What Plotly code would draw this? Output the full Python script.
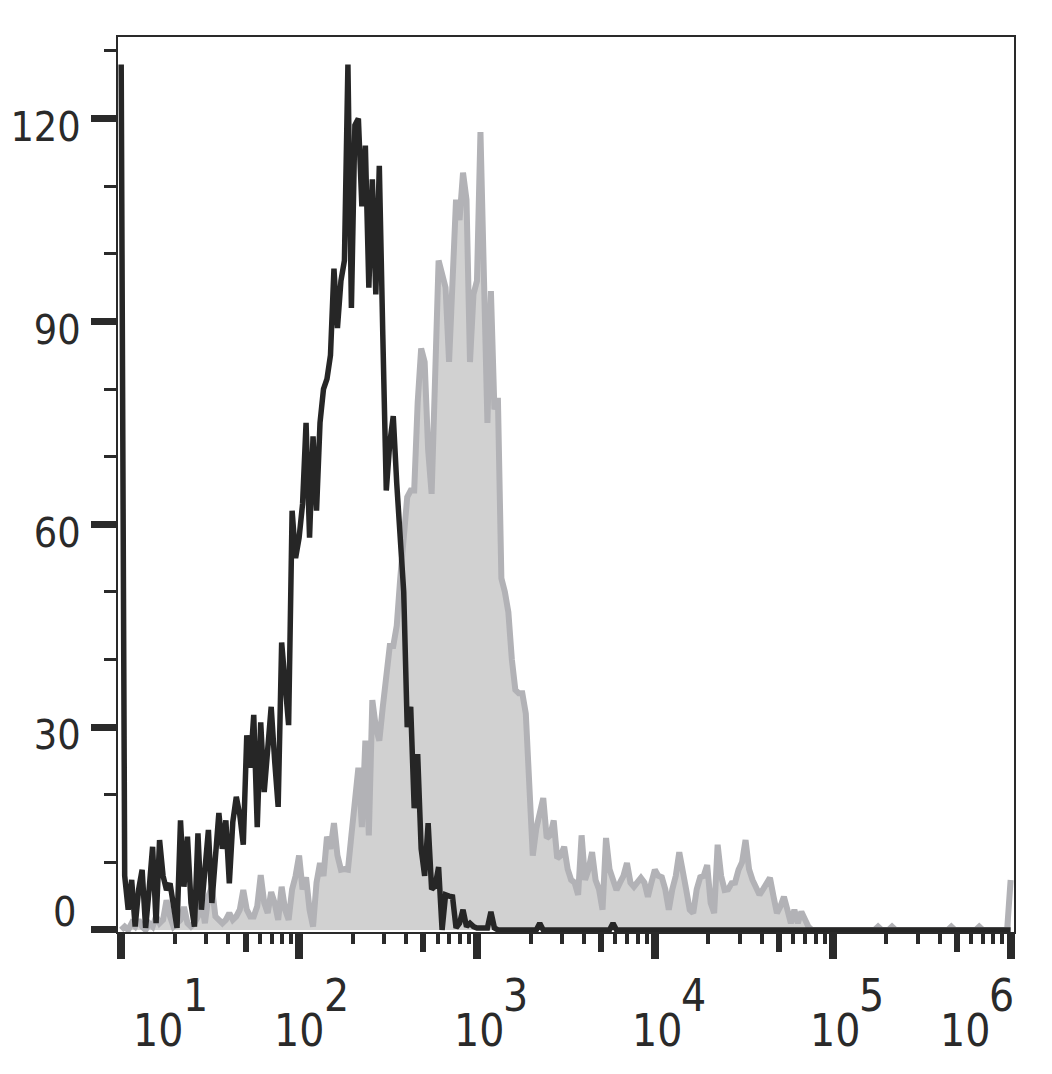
import numpy as np
import plotly.graph_objects as go

# ---- data: 256 log-spaced channels from 10^1 to 10^6 ----
n_bins = 256
channels = np.logspace(1, 6, n_bins)

black_counts = [
    128, 8, 3, 7.4, 0.5, 6, 8.9, 0.3, 6, 12.3, 1, 13.3,
    8, 5.9, 6.9, 3, 0.3, 16.2, 6.4, 13.8, 4, 0.5, 14.3, 3,
    10, 14.8, 4, 12, 17.3, 12, 16.2, 6.9, 16, 19.7, 17, 12.6,
    28.8, 24, 31.8, 15.2, 30.7, 20.4, 28, 33, 25, 18.2, 42.5, 36,
    30.3, 62, 55, 58, 63, 75, 58, 73, 62, 75, 80, 81.5,
    85, 97.8, 89, 96, 99, 128, 92, 119, 120, 107, 116, 95,
    111, 94, 113, 88, 65, 72, 76, 66, 58, 50, 30, 33,
    18, 26, 12, 8, 15.8, 6, 6.5, 9.3, 0, 5.2, 5, 4.9,
    0.3, 1, 3, 0.5, 1, 0.5, 0.3, 0.3, 0.3, 0.3, 2.7, 0.3,
]
black_counts += [0] * (n_bins - len(black_counts))
black_counts[120] = 1
black_counts[141] = 1

gray_counts = [
    0, 0.5, 0, 1, 0.5, 1.5, 0.5, 0, 1, 0.5, 2, 1,
    1.5, 4.4, 2, 0.5, 1, 1.5, 3.4, 1, 0.5, 1, 2, 4.4,
    1, 5, 6.4, 2, 1.5, 1, 1.5, 2.5, 1.5, 2, 3, 5.9,
    3, 2, 2, 3.5, 8.1, 4, 2.5, 5.6, 4, 1.5, 6.4, 3,
    1.5, 6, 8, 11, 6, 7.8, 3, 0.5, 7, 9.9, 8, 13.8,
    12, 15.8, 11, 8.9, 9, 8.9, 14, 20, 24, 15.2, 28, 14,
    34, 30, 28, 33, 38, 42, 42, 45, 52, 57, 64, 65,
    65, 78, 86, 84, 71, 64.5, 80, 99, 97, 95, 84, 98,
    108, 105, 112, 108, 84, 94, 96, 118, 93, 75, 94.5, 77,
    78.7, 52, 50, 47, 40, 35.5, 35, 35, 32, 23, 11, 15,
    17, 19.5, 13.6, 14, 16.2, 10.6, 11, 12.3, 9, 7.4, 7, 5.2,
    14, 7.4, 9, 11.5, 7.4, 6, 3, 13.6, 9, 7.4, 5.9, 7,
    8, 9.9, 7, 6.4, 7, 7.7, 7, 4.9, 7, 8.9, 8, 7.8,
    6, 3, 6, 8, 11.5, 8, 5.9, 3, 2.5, 6, 7.8, 8,
    9.6, 4, 2.5, 12.6, 8, 5.9, 6, 6.9, 7, 8.9, 10, 13.3,
    9, 7.4, 6, 5.2, 6, 7, 7.7, 5, 2.5, 3.5, 4.9, 3,
    1, 3, 1, 2.7, 1.5, 0.5,
]
gray_counts += [0] * (n_bins - len(gray_counts))
for k in (217, 221, 238, 246):
    gray_counts[k] = 0.5
gray_counts[255] = 7.4

y_tick_vals = [0, 30, 60, 90, 120]
y_tick_text = ["", "30", "60", "90", "120"]
y_minor_vals = [10, 20, 40, 50, 70, 80, 100, 110, 130]
x_major_vals = [1e1, 1e2, 1e3, 1e4, 1e5, 1e6]
x_mid_vals = [5e1, 5e2, 5e3, 5e4, 5e5]
x_minor_vals = [k * 10 ** e for e in range(1, 6) for k in (2, 3, 4, 6, 7, 8, 9)]
x_exponents = ["1", "2", "3", "4", "5", "6"]

INK = "#2a2a2a"
FONT = "DejaVu Sans Condensed, DejaVu Sans, sans-serif"
FS = 44
FS_Y = 41

fig = go.Figure()
fig.add_trace(go.Scatter(
    x=channels, y=gray_counts, mode="lines", fill="tozeroy",
    fillcolor="#d1d1d1", line=dict(color="#b2b2b6", width=6),
    showlegend=False, hoverinfo="skip"))
fig.add_trace(go.Scatter(
    x=channels, y=black_counts, mode="lines",
    line=dict(color="#262626", width=5.5),
    showlegend=False, hoverinfo="skip"))
fig.add_trace(go.Scatter(x=[], y=[], xaxis="x2", yaxis="y", showlegend=False))

xr = [0.982, 6.019]
fig.update_layout(
    width=1052, height=1074,
    margin=dict(l=110, r=46, t=29, b=150, autoexpand=False),
    paper_bgcolor="white", plot_bgcolor="white",
    font=dict(family=FONT, size=FS, color=INK),
    xaxis=dict(
        type="log", range=xr, showgrid=False, zeroline=False,
        showline=True, linewidth=2, linecolor=INK, mirror=True,
        tickmode="array", tickvals=x_major_vals, showticklabels=False,
        ticks="outside", ticklen=25, tickwidth=8, tickcolor=INK,
        minor=dict(tickmode="array", tickvals=x_minor_vals, ticks="outside",
                   ticklen=10, tickwidth=4, tickcolor=INK, showgrid=False),
    ),
    xaxis2=dict(
        type="log", range=xr, overlaying="x", anchor="y", side="bottom",
        showgrid=False, zeroline=False, showline=False,
        tickmode="array", tickvals=x_mid_vals, showticklabels=False,
        ticks="outside", ticklen=19, tickwidth=5.5, tickcolor=INK,
    ),
    yaxis=dict(
        range=[-0.3, 132.06], showgrid=False, zeroline=False,
        showline=True, linewidth=2, linecolor=INK, mirror=True,
        tickmode="array", tickvals=y_tick_vals, ticktext=y_tick_text,
        ticks="outside", ticklen=25, tickwidth=7, tickcolor=INK,
        ticklabelstandoff=2, ticklabelshift=8,
        tickfont=dict(family=FONT, size=FS_Y, color=INK),
        minor=dict(tickmode="array", tickvals=y_minor_vals, ticks="outside",
                   ticklen=12, tickwidth=3.3, tickcolor=INK, showgrid=False),
    ),
)

# x tick labels: "10" plus a full-size raised exponent
base_shift = [37, 0, 2, 2, 2, -46]
for i, (v, ex) in enumerate(zip(x_major_vals, x_exponents)):
    lx = np.log10(v)
    fig.add_annotation(x=lx, xref="x", y=0, yref="paper", text="10",
                       showarrow=False, xanchor="center", yanchor="middle",
                       xshift=base_shift[i], yshift=-98,
                       font=dict(family=FONT, size=FS, color=INK))
    fig.add_annotation(x=lx, xref="x", y=0, yref="paper", text=ex,
                       showarrow=False, xanchor="center", yanchor="middle",
                       xshift=base_shift[i] + 37, yshift=-63,
                       font=dict(family=FONT, size=FS, color=INK))

# y label "0" sits slightly above its tick
fig.add_annotation(x=0, xref="paper", y=0, yref="y", text="0",
                   showarrow=False, xanchor="right", yanchor="middle",
                   xshift=-40, yshift=18,
                   font=dict(family=FONT, size=FS_Y, color=INK))

fig.write_html("out.html")
